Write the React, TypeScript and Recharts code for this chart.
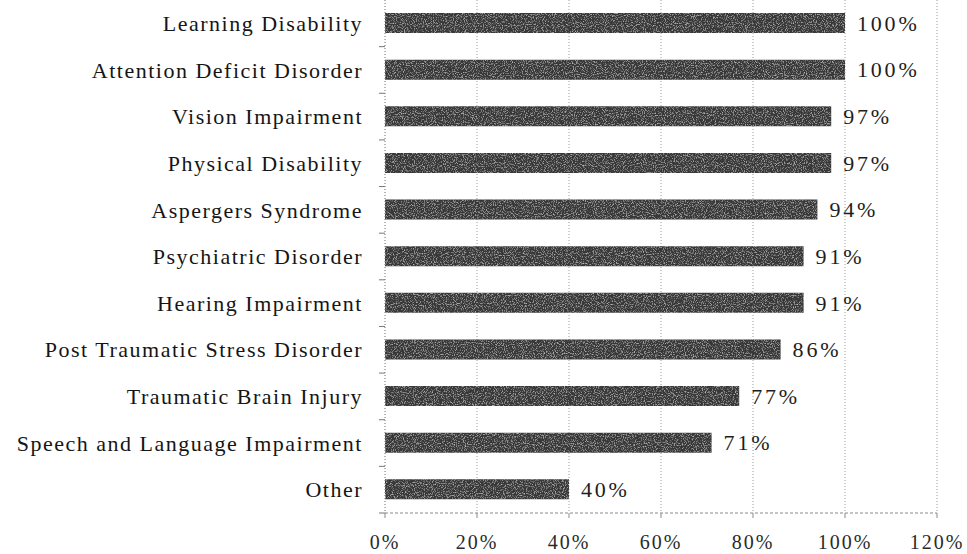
import React from "react";
import { BarChart, Bar, XAxis, YAxis, CartesianGrid, LabelList } from "recharts";

const categories = [
  "Learning Disability",
  "Attention Deficit Disorder",
  "Vision Impairment",
  "Physical Disability",
  "Aspergers Syndrome",
  "Psychiatric Disorder",
  "Hearing Impairment",
  "Post Traumatic Stress Disorder",
  "Traumatic Brain Injury",
  "Speech and Language Impairment",
  "Other",
];

const percentages = [100, 100, 97, 97, 94, 91, 91, 86, 77, 71, 40];

const xTicks = [0, 20, 40, 60, 80, 100, 120];

const data = categories.map((name, i) => ({ name, value: percentages[i] }));

const WIDTH = 967;
const HEIGHT = 554;
const MARGIN = { top: 0, right: 30, bottom: 0, left: 0 };
const X_AXIS_H = 41;
const Y_AXIS_W = 385;
const PLOT_H = HEIGHT - MARGIN.top - MARGIN.bottom - X_AXIS_H;
const BAND = PLOT_H / categories.length;

const serif: React.CSSProperties = {
  fontFamily: "'Liberation Serif', 'Times New Roman', serif",
  fontSize: 22,
  letterSpacing: 1.5,
};

// Category label plus a short tick at the lower edge of each band
function CategoryTick(props: any) {
  const { x, y, payload } = props;
  const axisX = x + 22;
  return (
    <g>
      <text x={x} y={y} dy="0.35em" textAnchor="end" fill="#151515" style={serif}>
        {payload.value}
      </text>
      <line x1={axisX - 6} x2={axisX} y1={y + BAND / 2} y2={y + BAND / 2} stroke="#777" strokeWidth={1} />
    </g>
  );
}

function PercentTick(props: any) {
  const { x, y, payload } = props;
  return (
    <text x={x} y={y} dy="0.71em" textAnchor="middle" fill="#2a2a2a" style={{ ...serif, fontSize: 20, letterSpacing: 2 }}>
      {`${payload.value}%`}
    </text>
  );
}

function ValueLabel(props: any) {
  const { x, y, width, height, value } = props;
  return (
    <text
      x={x + width + 12}
      y={y + height / 2}
      dy="0.35em"
      textAnchor="start"
      fill="#1e1e1e"
      style={{ ...serif, letterSpacing: 2.8 }}
    >
      {`${value}%`}
    </text>
  );
}

export default function App() {
  return (
    <div style={{ position: "absolute", left: 0, top: 0, width: WIDTH, height: HEIGHT, background: "#fff", overflow: "hidden" }}>
      <BarChart width={WIDTH} height={HEIGHT} data={data} layout="vertical" margin={MARGIN}>
        <defs>
          <filter id="grain" x="0" y="0" width="100%" height="100%">
            <feTurbulence type="fractalNoise" baseFrequency="0.9" numOctaves={2} seed={3} result="noise" />
            <feColorMatrix
              in="noise"
              type="matrix"
              values="0 0 0 0 0.6  0 0 0 0 0.6  0 0 0 0 0.6  0 0 0 2.2 -1.1"
              result="specks"
            />
            <feComposite in="specks" in2="SourceGraphic" operator="in" result="clipped" />
            <feMerge>
              <feMergeNode in="SourceGraphic" />
              <feMergeNode in="clipped" />
            </feMerge>
          </filter>
        </defs>
        <CartesianGrid horizontal={false} stroke="#9a9a9a" strokeDasharray="1 2" />
        <XAxis
          type="number"
          domain={[0, 120]}
          ticks={xTicks}
          height={X_AXIS_H}
          axisLine={{ stroke: "#8a8a8a", strokeDasharray: "3 2" }}
          tickLine={{ stroke: "#8a8a8a" }}
          tickSize={5}
          tickMargin={17}
          interval={0}
          tick={<PercentTick />}
        />
        <YAxis
          type="category"
          dataKey="name"
          width={Y_AXIS_W}
          axisLine={{ stroke: "#a0a0a0", strokeDasharray: "1 2" }}
          tickLine={false}
          tickSize={0}
          tickMargin={22}
          interval={0}
          tick={<CategoryTick />}
        />
        <Bar dataKey="value" fill="#383838" barSize={20} isAnimationActive={false} filter="url(#grain)">
          <LabelList dataKey="value" content={<ValueLabel />} />
        </Bar>
      </BarChart>
    </div>
  );
}
